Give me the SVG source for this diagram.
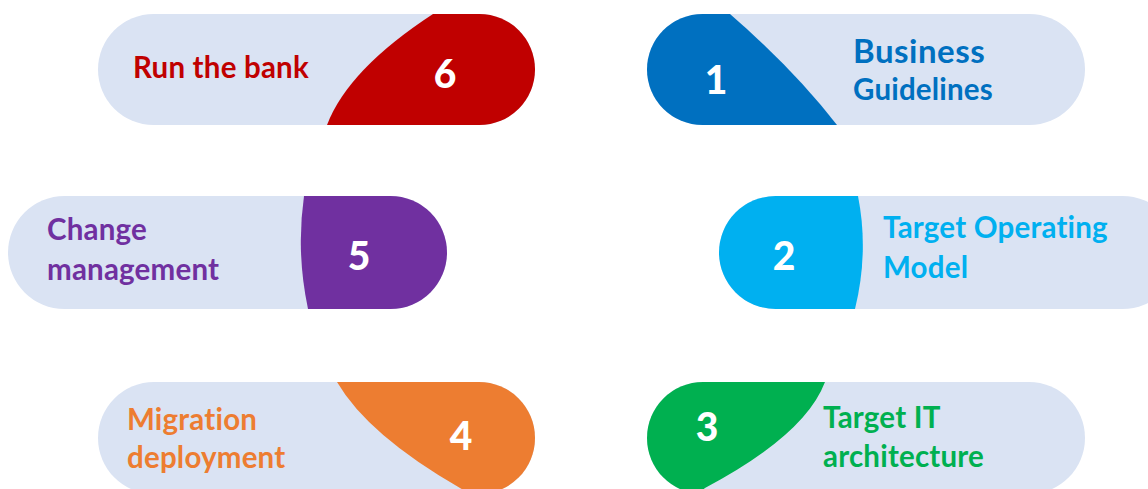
<svg xmlns="http://www.w3.org/2000/svg" width="1148" height="489" viewBox="0 0 1148 489">
<defs>
<style>
.pill{fill:#DAE3F3}
.lbl{font-family:Lato,"Open Sans","DejaVu Sans",sans-serif;font-weight:700;font-size:29.5px;letter-spacing:0.2px}
.big{font-size:33px;letter-spacing:0.5px}
.num{font-family:Lato,"Open Sans","DejaVu Sans",sans-serif;font-weight:900;font-size:39px;fill:#FFFFFF;text-anchor:middle}
</style>
<clipPath id="c6"><rect x="98" y="14" width="437" height="111" rx="55.5"/></clipPath>
<clipPath id="c1"><rect x="647" y="14" width="438" height="111" rx="55.5"/></clipPath>
<clipPath id="c5"><rect x="8" y="196" width="439" height="113" rx="56.5"/></clipPath>
<clipPath id="c2"><rect x="719" y="196" width="460" height="113" rx="56.5"/></clipPath>
<clipPath id="c4"><rect x="98" y="382" width="437" height="112" rx="56"/></clipPath>
<clipPath id="c3"><rect x="647" y="382" width="438" height="112" rx="56"/></clipPath>
</defs>
<rect width="1148" height="489" fill="#FFFFFF"/>
<g id="connectors"/>
<g id="node6">
<rect class="pill" x="98" y="14" width="437" height="111" rx="55.5"/>
<path clip-path="url(#c6)" fill="#C00000" d="M433,14 Q348,69.5 327,125 L540,125 L540,14 Z"/>
<text class="lbl" x="133" y="78" fill="#C00000">Run the bank</text>
<text class="num" x="445" y="88">6</text>
</g>
<g id="node1">
<rect class="pill" x="647" y="14" width="438" height="111" rx="55.5"/>
<path clip-path="url(#c1)" fill="#0070C0" d="M730,14 Q794,69.5 837,125 L640,125 L640,14 Z"/>
<text class="lbl big" x="853" y="63" fill="#0070C0">Business</text>
<text class="lbl" x="853" y="100" fill="#0070C0">Guidelines</text>
<text class="num" x="716" y="94">1</text>
</g>
<g id="node5">
<rect class="pill" x="8" y="196" width="439" height="113" rx="56.5"/>
<path clip-path="url(#c5)" fill="#7030A0" d="M304,196 Q296,252 308,309 L450,309 L450,196 Z"/>
<text class="lbl" x="47" y="240" fill="#7030A0">Change</text>
<text class="lbl" x="47" y="280" fill="#7030A0">management</text>
<text class="num" x="359" y="270">5</text>
</g>
<g id="node2">
<rect class="pill" x="719" y="196" width="460" height="113" rx="56.5"/>
<path clip-path="url(#c2)" fill="#00B0F0" d="M858,196 Q869,252 855,309 L715,309 L715,196 Z"/>
<text class="lbl" x="883" y="238" fill="#00B0F0">Target Operating</text>
<text class="lbl" x="883" y="278" fill="#00B0F0">Model</text>
<text class="num" x="784" y="270">2</text>
</g>
<g id="node4">
<rect class="pill" x="98" y="382" width="437" height="112" rx="56"/>
<path clip-path="url(#c4)" fill="#ED7D31" d="M337,382 Q368,435 460,488 L480,500 L540,500 L540,382 Z"/>
<text class="lbl" x="127" y="430" fill="#ED7D31">Migration</text>
<text class="lbl" x="127" y="468" fill="#ED7D31">deployment</text>
<text class="num" x="461" y="450">4</text>
</g>
<g id="node3">
<rect class="pill" x="647" y="382" width="438" height="112" rx="56"/>
<path clip-path="url(#c3)" fill="#00B050" d="M825,382 Q805,435 705,488 L690,500 L640,500 L640,382 Z"/>
<text class="lbl" x="823" y="428" fill="#00B050">Target IT</text>
<text class="lbl" x="823" y="467" fill="#00B050">architecture</text>
<text class="num" x="707" y="441">3</text>
</g>
</svg>
